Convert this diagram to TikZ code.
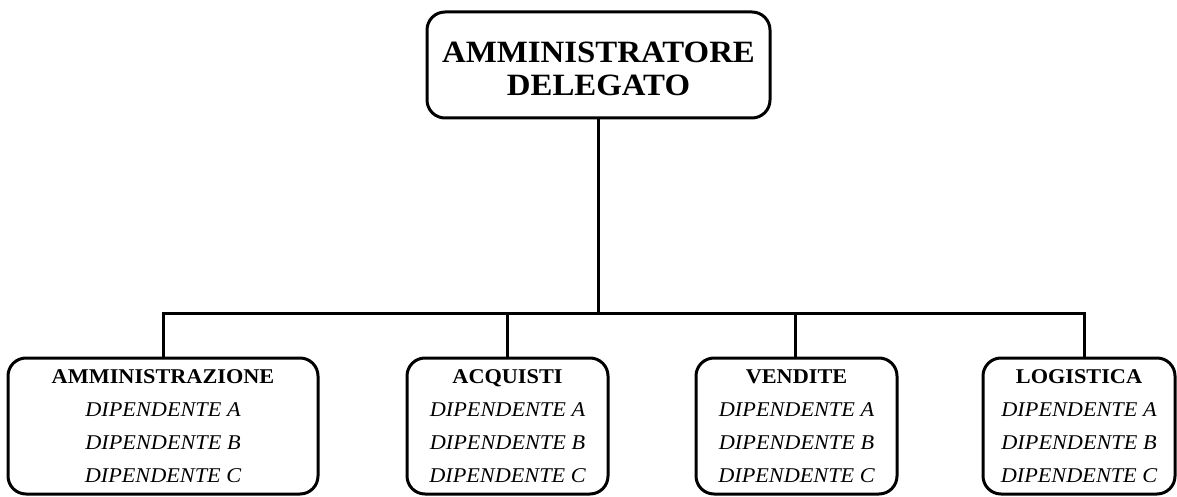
\documentclass[tikz,border=0pt]{standalone}
\usepackage{fontspec}
\setmainfont{Liberation Serif}[FakeStretch=1.06]
\begin{document}
\begin{tikzpicture}[x=1pt,y=-1pt,
  box/.style={draw=black,line width=3pt,rounded corners=18pt,align=center,inner sep=0pt,text=black},
  top/.style={box,minimum width=343pt,minimum height=106pt,font=\fontsize{31}{33}\selectfont\bfseries},
  dept/.style={box,minimum height=136pt,font=\fontsize{21}{33}\selectfont},
  conn/.style={line width=3pt,draw=black}]
\useasboundingbox (0,0) rectangle (1177,497);
\node[top] (ad) at (598.5,65) {\rule{0pt}{29pt}AMMINISTRATORE\\DELEGATO};
\node[dept,minimum width=310pt] (b1) at (163,426) {{\fontsize{21}{33}\selectfont\bfseries AMMINISTRAZIONE}\\\itshape DIPENDENTE A\\\itshape DIPENDENTE B\\\itshape DIPENDENTE C};
\node[dept,minimum width=201pt] (b2) at (507.5,426) {{\fontsize{21}{33}\selectfont\bfseries ACQUISTI}\\\itshape DIPENDENTE A\\\itshape DIPENDENTE B\\\itshape DIPENDENTE C};
\node[dept,minimum width=201pt] (b3) at (796.5,426) {{\fontsize{21}{33}\selectfont\bfseries VENDITE}\\\itshape DIPENDENTE A\\\itshape DIPENDENTE B\\\itshape DIPENDENTE C};
\node[dept,minimum width=192pt] (b4) at (1079,426) {{\fontsize{21}{33}\selectfont\bfseries LOGISTICA}\\\itshape DIPENDENTE A\\\itshape DIPENDENTE B\\\itshape DIPENDENTE C};
\coordinate (bus) at (598.5,313);
\coordinate (s1) at (163,313);
\coordinate (s2) at (507,313);
\coordinate (s3) at (795,313);
\coordinate (s4) at (1084,313);
\draw[conn] (ad.south) -- (bus);
\draw[conn,line cap=rect] (s1) -- (s4);
\draw[conn] (s1) -- (s1 |- b1.north);
\draw[conn] (s2) -- (s2 |- b2.north);
\draw[conn] (s3) -- (s3 |- b3.north);
\draw[conn] (s4) -- (s4 |- b4.north);
\end{tikzpicture}
\end{document}
